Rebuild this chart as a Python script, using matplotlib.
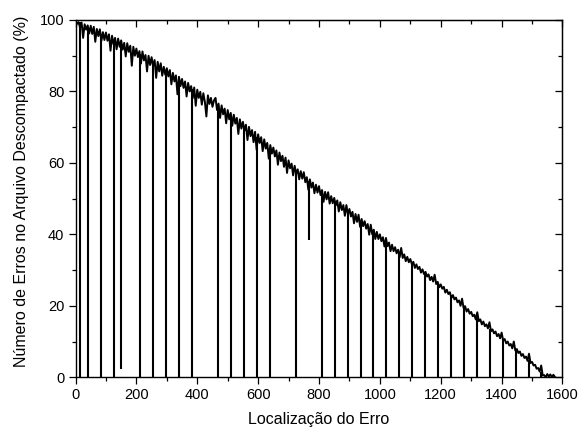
import numpy as np
import matplotlib
matplotlib.use("Agg")
import matplotlib.pyplot as plt
from matplotlib.ticker import MultipleLocator

plt.rcParams['font.family'] = ['Liberation Sans', 'DejaVu Sans']

# error location (sampled every 5) and % of errors in the decompressed file
loc = np.arange(0, 1580, 5)
pct = [
    100.0, 98.9, 99.4, 97.9, 99.3, 95.0, 98.8, 97.3, 98.5, 96.2,
    98.4, 96.1, 98.1, 93.9, 97.5, 95.5, 97.4, 94.1, 96.6, 94.4,
    96.5, 94.2, 96.0, 91.4, 95.6, 93.2, 95.0, 91.8, 94.8, 92.5,
    94.3, 91.7, 93.6, 89.8, 93.5, 91.1, 92.8, 87.2, 92.5, 90.0,
    92.0, 89.6, 91.3, 87.8, 91.2, 88.7, 90.2, 85.6, 90.0, 87.4,
    89.6, 87.0, 88.8, 83.8, 88.3, 85.6, 87.9, 84.4, 86.9, 84.7,
    86.5, 84.2, 86.0, 82.0, 85.2, 82.8, 84.5, 79.2, 84.1, 81.5,
    83.5, 81.0, 82.8, 78.6, 82.4, 80.0, 81.5, 78.1, 81.1, 76.0,
    80.5, 78.2, 79.9, 76.3, 79.5, 77.1, 73.0, 78.9, 76.5, 78.2,
    75.7, 77.5, 78.2, 74.8, 76.6, 72.6, 76.1, 73.6, 75.2, 71.1,
    74.8, 72.2, 74.0, 70.4, 73.5, 71.0, 72.6, 68.1, 72.2, 69.6,
    71.5, 69.0, 70.7, 66.4, 70.1, 67.5, 69.2, 65.8, 68.7, 63.7,
    68.0, 65.6, 67.2, 63.3, 66.6, 64.0, 65.6, 61.2, 65.0, 62.6,
    64.3, 61.8, 63.5, 59.5, 62.9, 60.5, 62.0, 58.9, 61.5, 57.2,
    60.7, 58.5, 59.8, 56.5, 59.2, 56.9, 58.2, 55.4, 57.7, 55.6,
    57.4, 54.6, 56.0, 52.5, 55.4, 53.1, 54.5, 51.5, 53.9, 51.7,
    53.5, 51.0, 52.4, 49.1, 51.9, 49.8, 51.8, 48.6, 50.7, 48.7,
    50.2, 48.1, 49.5, 46.4, 49.0, 46.8, 48.2, 45.2, 48.2, 45.6,
    47.1, 45.0, 46.3, 43.1, 45.7, 43.5, 45.5, 42.1, 44.3, 42.3,
    43.7, 41.6, 42.9, 39.9, 42.7, 40.0, 41.3, 38.7, 40.7, 38.7,
    40.0, 38.1, 39.2, 36.6, 39.0, 36.7, 37.7, 35.3, 37.1, 35.3,
    36.4, 34.7, 35.7, 33.6, 36.2, 33.4, 34.4, 32.5, 33.7, 32.2,
    33.1, 31.7, 32.3, 30.6, 31.6, 30.3, 30.9, 29.3, 30.2, 28.9,
    29.5, 28.2, 28.8, 27.2, 28.1, 26.8, 28.7, 26.1, 26.7, 25.2,
    26.0, 24.8, 25.3, 23.7, 24.5, 23.3, 23.8, 22.2, 23.0, 21.8,
    22.3, 21.0, 21.5, 20.0, 22.0, 19.4, 19.9, 18.4, 19.1, 17.8,
    18.3, 17.1, 17.5, 16.2, 18.2, 15.7, 16.2, 14.8, 15.6, 14.3,
    14.8, 13.7, 15.4, 12.9, 13.4, 12.3, 12.8, 11.5, 12.1, 10.9,
    12.5, 10.3, 10.7, 9.5, 10.0, 8.9, 9.3, 8.1, 10.0, 7.5,
    7.9, 6.8, 7.2, 6.0, 6.5, 5.4, 5.8, 4.6, 6.6, 4.0,
    4.3, 3.3, 3.5, 2.4, 2.6, 1.6, 3.3, 0.5, 0.6, 0.0,
    0.9, 0.2, 0.8, 0.0, 0.7, 0.1,
]

# positions where the count drops, and how far it drops
drop_x = [14, 42.7, 83.4, 127, 151, 212, 255, 297.5, 340, 382,
          468, 510.6, 554.5, 597, 639, 725, 766, 811, 851.5, 894,
          937, 978.7, 1021, 1063, 1106, 1148.7, 1191, 1233, 1276, 1318.6,
          1362, 1404, 1447, 1488.6, 1530.6]
drop_top = [99.4, 97.8, 96.2, 94.3, 93.3, 90.4, 88.2, 85.6, 83.1, 80.6,
            75.8, 73.1, 70.2, 67.2, 64.1, 57.9, 54.8, 51.5, 49.2, 46.6,
            43.7, 40.7, 37.7, 34.9, 32.1, 29.1, 26.1, 23.1, 19.7, 16.5,
            13.6, 10.7, 7.7, 4.8, 1.5]
drop_bottom = [0, 0, 0, 0, 2.2, 0, 0, 0, 0, 0,
               0, 0, 0, 0, 0, 0, 38.5, 0, 0, 0,
               0, 0, 0, 0, 0, 0, 0, 0, 0, 0,
               0, 0, 0, 0, 0]

fig = plt.figure(figsize=(5.79, 4.30), dpi=100)
ax = fig.add_axes([0.1304, 0.1226, 0.8411, 0.8309])

ax.plot(loc, pct, color='black', lw=1.4)
ax.vlines(drop_x, drop_bottom, drop_top, color='black', lw=1.5)

ax.set_xlim(0, 1600)
ax.set_ylim(0, 100)
ax.xaxis.set_major_locator(MultipleLocator(200))
ax.xaxis.set_minor_locator(MultipleLocator(100))
ax.yaxis.set_major_locator(MultipleLocator(20))
ax.yaxis.set_minor_locator(MultipleLocator(10))
ax.tick_params(which='major', direction='out', length=5, width=0.9, labelsize=10.5, pad=3)
ax.tick_params(which='minor', direction='out', length=3, width=0.9)
for s in ax.spines.values():
    s.set_linewidth(1.0)

top = ax.secondary_xaxis('top')
top.xaxis.set_major_locator(MultipleLocator(200))
top.xaxis.set_minor_locator(MultipleLocator(100))
top.tick_params(which='major', direction='in', length=5, width=0.9, labeltop=False)
top.tick_params(which='minor', direction='in', length=2.7, width=0.9)

right = ax.secondary_yaxis('right')
right.yaxis.set_major_locator(MultipleLocator(20))
right.yaxis.set_minor_locator(MultipleLocator(10))
right.tick_params(which='major', direction='in', length=5, width=0.9, labelright=False)
right.tick_params(which='minor', direction='in', length=2.7, width=0.9)

ax.set_xlabel("Localização do Erro", fontsize=11.5, labelpad=7)
ax.set_ylabel("Número de Erros no Arquivo Descompactado (%)", fontsize=11.5,
              labelpad=8, y=0.52)

fig.savefig("out.png", dpi=100)
